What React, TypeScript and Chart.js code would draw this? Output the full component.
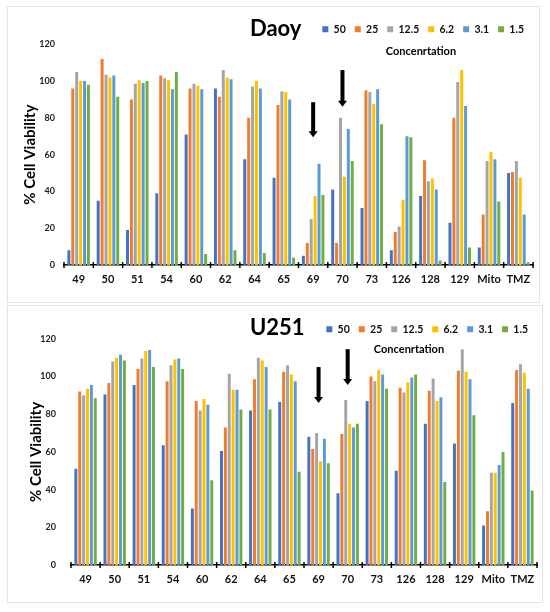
import { useEffect, useRef } from "react";
import { Chart, registerables } from "chart.js";

Chart.register(...registerables);

const FONT = "Lato, 'Open Sans', sans-serif";

const categories = ["49", "50", "51", "54", "60", "62", "64", "65", "69", "70", "73", "126", "128", "129", "Mito", "TMZ"];
const concentrations = ["50", "25", "12.5", "6.2", "3.1", "1.5"];
const seriesColors = ["#4472C4", "#ED7D31", "#A5A5A5", "#FFC000", "#5B9BD5", "#70AD47"];

// Daoy: one array per concentration
const daoy50 = [8, 35, 19, 39, 71, 96, 57.5, 47.5, 5, 41, 31, 8, 37.5, 23, 9.5, 50];
const daoy25 = [96, 112, 90, 103, 96, 91.5, 80, 87, 12, 12, 95, 18, 57, 80, 27.5, 50.5];
const daoy12_5 = [105, 103.5, 98.5, 101.5, 98.5, 106, 97, 94.5, 25, 80, 94, 21, 45.5, 99.5, 56.5, 56.5];
const daoy6_2 = [100, 102, 100.5, 100.5, 97.5, 102, 100, 94, 37.5, 48, 87.5, 35.5, 47, 106, 61.5, 47.5];
const daoy3_1 = [100, 103, 99, 95.5, 95.5, 101, 96, 90, 55, 74, 95.5, 70, 41, 86.5, 57.5, 27.5];
const daoy1_5 = [98, 91.5, 100, 105, 6, 8, 6.5, 4, 38, 56.5, 76.5, 69.5, 2.5, 9.5, 34.5, 1.5];

// U251
const u251_50 = [51, 90.5, 95.5, 63.5, 30, 60.5, 82, 86.5, 68, 38, 87, 50, 75, 64.5, 21, 86];
const u251_25 = [92, 96.5, 104, 97.5, 87, 73, 98.5, 102.5, 61.5, 69.5, 100, 94, 92.5, 103, 28.5, 103.5];
const u251_12_5 = [90, 108, 109.5, 106, 82, 101.5, 110, 106, 70, 87.5, 97.5, 91.5, 99, 114.5, 49, 106.5];
const u251_6_2 = [93.5, 110, 113.5, 109, 88, 93, 108.5, 101, 55, 75, 103.5, 97, 87, 102.5, 49, 102];
const u251_3_1 = [95.5, 111.5, 114, 109.5, 85, 93, 105, 97.5, 67, 73, 101, 99.5, 89, 98.5, 53, 93.5];
const u251_1_5 = [88.5, 108.5, 105, 104, 45, 82.5, 82.5, 49.5, 54, 75, 93.5, 101, 44, 79.5, 60, 39.5];

// arrows marking compounds 69 and 70 (value at tail, value at tip)
const arrowCats = ["69", "70"];
const daoyArrowTail = [88.5, 106];
const daoyArrowTip = [69.5, 86];
const u251ArrowTail = [105, 114.5];
const u251ArrowTip = [86, 95.5];

const yTicksMax = 120;
const yTicksStep = 20;

// shrink/grow the legend box so the plot starts where we want
const legendFit = {
    id: "legendFit",
    beforeLayout(chart: any, _args: any, opts: any) {
        const legend = chart.legend;
        if (!legend || legend._fitPatched) return;
        const orig = legend.fit;
        legend.fit = function () {
            orig.call(this);
            this.height = opts.height;
        };
        legend._fitPatched = true;
    },
};

const panelText = {
    id: "panelText",
    afterDraw(chart: any, _args: any, opts: any) {
        const { ctx } = chart;
        ctx.save();
        ctx.fillStyle = "#000";
        ctx.textBaseline = "alphabetic";
        ctx.font = `bold 22px ${FONT}`;
        ctx.textAlign = "left";
        ctx.fillText(opts.title, opts.titleX, opts.titleBase);
        ctx.font = `bold 11px ${FONT}`;
        ctx.textAlign = "center";
        ctx.fillText(opts.subtitle, opts.subX, opts.subBase);
        ctx.restore();
    },
};

// tick marks crossing the x axis at category boundaries
const crossTicks = {
    id: "crossTicks",
    afterDraw(chart: any) {
        const x = chart.scales.x;
        const { ctx } = chart;
        const n = x.ticks.length;
        ctx.save();
        ctx.strokeStyle = "#000";
        ctx.lineWidth = 1.5;
        ctx.beginPath();
        for (let i = 0; i <= n; i++) {
            let px;
            if (i === 0) px = x.left;
            else if (i === n) px = x.right;
            else px = (x.getPixelForTick(i - 1) + x.getPixelForTick(i)) / 2;
            ctx.moveTo(px, x.top - 3);
            ctx.lineTo(px, x.top + 3);
        }
        ctx.stroke();
        ctx.restore();
    },
};

const arrows = {
    id: "arrows",
    afterDatasetsDraw(chart: any, _args: any, opts: any) {
        const { ctx } = chart;
        const xs = chart.scales.x;
        const ys = chart.scales.y;
        ctx.save();
        ctx.fillStyle = "#000";
        opts.cats.forEach((c: string, i: number) => {
            const px = xs.getPixelForValue(categories.indexOf(c));
            const top = ys.getPixelForValue(opts.tail[i]);
            const tip = ys.getPixelForValue(opts.tip[i]);
            const headH = 6;
            ctx.fillRect(px - 2, top, 4, tip - top - headH + 1);
            ctx.beginPath();
            ctx.moveTo(px - 4.5, tip - headH);
            ctx.lineTo(px + 4.5, tip - headH);
            ctx.lineTo(px, tip);
            ctx.closePath();
            ctx.fill();
        });
        ctx.restore();
    },
};

interface PanelProps {
    title: string;
    series: number[][];
    arrowTail: number[];
    arrowTip: number[];
    top: number;
    height: number;
    padTop: number;
    padLeft: number;
    padRight: number;
    legendHeight: number;
    yWidth: number;
    yTitlePad: number;
    yTickPad: number;
    xHeight: number;
    titleX: number;
    titleBase: number;
    subX: number;
    subBase: number;
}

const ViabilityChart: React.FC<PanelProps> = (p) => {
    const chartRef = useRef<HTMLCanvasElement | null>(null);

    useEffect(() => {
        if (!chartRef.current) return;
        const ctx = chartRef.current.getContext("2d");
        if (!ctx) return;

        const myChart = new Chart(ctx, {
            type: "bar",
            data: {
                labels: categories,
                datasets: concentrations.map((c, i) => ({
                    label: c,
                    data: p.series[i],
                    backgroundColor: seriesColors[i],
                    borderWidth: 0,
                    categoryPercentage: 0.8,
                    barPercentage: 0.76,
                })),
            },
            options: {
                responsive: false,
                animation: false,
                layout: { padding: { top: p.padTop, left: p.padLeft, right: p.padRight, bottom: 0 } },
                plugins: {
                    title: { display: false },
                    tooltip: { enabled: false },
                    legend: {
                        position: "top",
                        align: "end",
                        labels: {
                            boxWidth: 6,
                            boxHeight: 6,
                            padding: 9,
                            color: "#111",
                            font: { family: FONT, size: 10.5, weight: "bold" },
                        },
                    },
                    legendFit: { height: p.legendHeight },
                    panelText: {
                        title: p.title,
                        titleX: p.titleX,
                        titleBase: p.titleBase,
                        subtitle: "Concenrtation",
                        subX: p.subX,
                        subBase: p.subBase,
                    },
                    arrows: { cats: arrowCats, tail: p.arrowTail, tip: p.arrowTip },
                } as any,
                scales: {
                    x: {
                        grid: { display: false, drawTicks: false },
                        border: { display: true, color: "#000", width: 1.5 },
                        ticks: {
                            color: "#111",
                            font: { family: FONT, size: 11, weight: "bold" },
                            padding: 8,
                            maxRotation: 0,
                            autoSkip: false,
                        },
                        afterFit: (s: any) => {
                            s.height = p.xHeight;
                        },
                    },
                    y: {
                        min: 0,
                        max: yTicksMax,
                        grid: { display: false, drawTicks: false },
                        border: { display: false },
                        ticks: {
                            stepSize: yTicksStep,
                            padding: p.yTickPad,
                            color: "#222",
                            font: { family: FONT, size: 9, weight: "bold" },
                        },
                        title: {
                            display: true,
                            text: "% Cell Viability",
                            color: "#000",
                            font: { family: FONT, size: 15, weight: "bold" },
                            padding: { top: p.yTitlePad, bottom: 0 },
                        },
                        afterFit: (s: any) => {
                            s.width = p.yWidth;
                        },
                    },
                },
            },
            plugins: [legendFit, panelText, crossTicks, arrows],
        });
        return () => {
            myChart.destroy();
        };
    }, [p]);

    return (
        <canvas
            ref={chartRef}
            width={550}
            height={p.height}
            style={{ position: "absolute", left: 0, top: p.top, width: 550, height: p.height }}
        ></canvas>
    );
};

const daoyPanel: PanelProps = {
    title: "Daoy",
    series: [daoy50, daoy25, daoy12_5, daoy6_2, daoy3_1, daoy1_5],
    arrowTail: daoyArrowTail,
    arrowTip: daoyArrowTip,
    top: 0,
    height: 302,
    padTop: 15,
    padLeft: 12,
    padRight: 17,
    legendHeight: 29.3,
    yWidth: 52,
    yTitlePad: 9,
    yTickPad: 9,
    xHeight: 37,
    titleX: 250,
    titleBase: 36,
    subX: 421,
    subBase: 55,
};

const u251Panel: PanelProps = {
    title: "U251",
    series: [u251_50, u251_25, u251_12_5, u251_6_2, u251_3_1, u251_1_5],
    arrowTail: u251ArrowTail,
    arrowTip: u251ArrowTip,
    top: 303,
    height: 309,
    padTop: 12,
    padLeft: 12,
    padRight: 13,
    legendHeight: 23.8,
    yWidth: 59,
    yTitlePad: 15,
    yTickPad: 15,
    xHeight: 47,
    titleX: 250,
    titleBase: 32,
    subX: 409,
    subBase: 50,
};

export default function App() {
    return (
        <div style={{ position: "absolute", left: 0, top: 0, width: 550, height: 612, background: "#fff" }}>
            <div style={{ position: "absolute", left: 7, top: 6, width: 533, height: 297, border: "1px solid #e4e4e4", boxSizing: "border-box" }} />
            <div style={{ position: "absolute", left: 7, top: 305, width: 536, height: 298, border: "1px solid #e4e4e4", boxSizing: "border-box" }} />
            <ViabilityChart {...daoyPanel} />
            <ViabilityChart {...u251Panel} />
        </div>
    );
}
